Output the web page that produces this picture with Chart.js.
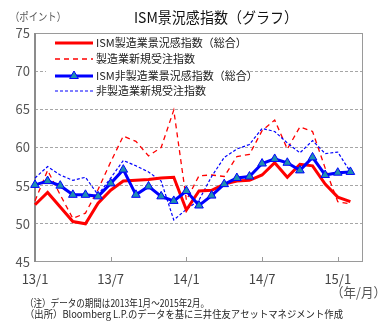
<!DOCTYPE html>
<html>
<head>
<meta charset="utf-8">
<script src="https://cdn.jsdelivr.net/npm/chart.js@4"></script>
<style>
  body { margin: 0; background: #fff; }
  #wrap { width: 388px; height: 329px; }
</style>
</head>
<body>
<div id="wrap"><canvas id="myChart" width="388" height="329"></canvas></div>
<script>
// months 13/1 .. 15/3 (axis runs one month past the last value)
const months = [
  "13/1","13/2","13/3","13/4","13/5","13/6","13/7","13/8","13/9","13/10","13/11","13/12",
  "14/1","14/2","14/3","14/4","14/5","14/6","14/7","14/8","14/9","14/10","14/11","14/12",
  "15/1","15/2","15/3"
];
const tickLabels = ["13/1", "13/7", "14/1", "14/7", "15/1"];

const mfg = [52.5, 54.1, 52.2, 50.3, 50.0, 52.7, 54.4, 55.6, 55.7, 55.8, 56.0, 56.1,
  51.8, 54.3, 54.4, 55.2, 55.6, 55.7, 56.4, 58.0, 56.1, 57.8, 57.6, 55.2, 53.5, 52.9];
const mfgOrders = [53.0, 57.0, 53.8, 50.7, 51.4, 54.5, 58.1, 61.5, 60.8, 58.9, 60.0, 64.9,
  53.1, 56.3, 56.4, 56.2, 58.8, 59.1, 62.2, 63.6, 59.8, 62.7, 62.1, 57.3, 52.9, 52.6];
const nonMfg = [55.1, 55.6, 55.0, 53.8, 53.8, 53.6, 55.3, 57.1, 53.8, 54.9, 53.6, 53.0,
  54.3, 52.4, 53.7, 55.2, 56.0, 56.2, 57.9, 58.5, 58.0, 57.0, 58.7, 56.4, 56.7, 56.8];
const nonMfgOrders = [56.0, 57.5, 56.4, 55.7, 56.1, 53.8, 56.0, 58.3, 57.6, 56.8, 55.6, 50.5,
  51.9, 53.1, 56.2, 58.7, 59.8, 60.4, 62.5, 62.1, 60.6, 59.3, 60.9, 59.2, 59.4, 56.8];

const FONT = "'Noto Sans CJK JP', 'Noto Sans', sans-serif";

// frame, inner x ticks, titles and notes
const decorations = {
  id: "decorations",
  beforeDatasetsDraw(chart) {
    const { ctx, chartArea: a, scales } = chart;
    ctx.save();
    ctx.strokeStyle = "#9a9a9a";
    ctx.lineWidth = 1;
    ctx.strokeRect(a.left + 0.5, a.top + 0.5, a.right - a.left - 1, a.bottom - a.top - 1);
    ctx.strokeStyle = "#8c8c8c";
    ctx.lineWidth = 2;
    ctx.beginPath();
    ctx.moveTo(a.left, a.top);
    ctx.lineTo(a.left, a.bottom);
    ctx.stroke();
    ctx.lineWidth = 1;
    ctx.strokeStyle = "#9a9a9a";
    months.forEach((m, i) => {
      if (i > 0 && tickLabels.includes(m)) {
        const x = Math.round(scales.x.getPixelForValue(i)) + 0.5;
        ctx.beginPath();
        ctx.moveTo(x, a.bottom);
        ctx.lineTo(x, a.bottom - 5);
        ctx.stroke();
      }
    });
    ctx.restore();
  },
  afterDraw(chart) {
    const { ctx } = chart;
    ctx.save();
    ctx.textBaseline = "middle";
    ctx.fillStyle = "#111";
    ctx.font = "15px " + FONT;
    ctx.textAlign = "center";
    ctx.fillText("ISM景況感指数（グラフ）", 216, 17, 164);
    ctx.fillStyle = "#555";
    ctx.font = "11px " + FONT;
    ctx.textAlign = "left";
    ctx.fillText("（ポイント）", 10, 17, 56);
    ctx.font = "13px " + FONT;
    ctx.fillText("（年/月）", 331, 292, 55);
    ctx.fillStyle = "#222";
    ctx.font = "10px " + FONT;
    ctx.fillText("（注）データの期間は2013年1月～2015年2月。", 25, 303, 184);
    ctx.fillText("（出所）Bloomberg L.P.のデータを基に三井住友アセットマネジメント作成", 25, 314, 318);
    ctx.restore();
  }
};

// legend drawn inside the plot, from the dataset styles
const innerLegend = {
  id: "innerLegend",
  afterDatasetsDraw(chart) {
    const { ctx } = chart;
    const rows = [43, 59, 76, 91];
    ctx.save();
    ctx.fillStyle = "#fff";
    ctx.fillRect(46, 36, 200, 63);
    chart.data.datasets.forEach((ds, i) => {
      const y = rows[i];
      ctx.strokeStyle = ds.borderColor;
      ctx.lineWidth = ds.borderWidth;
      ctx.setLineDash(ds.borderDash || []);
      ctx.beginPath();
      ctx.moveTo(55, y);
      ctx.lineTo(93, y);
      ctx.stroke();
      ctx.setLineDash([]);
      if (ds.pointRadius > 0) {
        const r = ds.pointRadius;
        ctx.fillStyle = ds.pointBackgroundColor;
        ctx.strokeStyle = ds.pointBorderColor;
        ctx.lineWidth = 1;
        ctx.beginPath();
        ctx.moveTo(74, y - r);
        ctx.lineTo(74 + r * 0.87, y + r * 0.5);
        ctx.lineTo(74 - r * 0.87, y + r * 0.5);
        ctx.closePath();
        ctx.fill();
        ctx.stroke();
      }
      ctx.fillStyle = "#222";
      ctx.font = "11px " + FONT;
      ctx.textBaseline = "middle";
      ctx.textAlign = "left";
      ctx.fillText(ds.label, 96, y);
    });
    ctx.restore();
  }
};

new Chart(document.getElementById("myChart"), {
  type: "line",
  data: {
    labels: months,
    datasets: [
      {
        label: "ISM製造業景況感指数（総合）",
        data: mfg,
        borderColor: "#ff0000",
        borderWidth: 3,
        pointRadius: 0,
        order: 1
      },
      {
        label: "製造業新規受注指数",
        data: mfgOrders,
        borderColor: "#ff0000",
        borderWidth: 1.3,
        borderDash: [5, 4],
        pointRadius: 0,
        order: 3
      },
      {
        label: "ISM非製造業景況感指数（総合）",
        data: nonMfg,
        borderColor: "#0000ff",
        borderWidth: 3,
        pointStyle: "triangle",
        pointRadius: 5,
        pointBackgroundColor: "#1e8fb0",
        pointBorderColor: "#0000ff",
        pointBorderWidth: 1,
        order: 0
      },
      {
        label: "非製造業新規受注指数",
        data: nonMfgOrders,
        borderColor: "#0000ff",
        borderWidth: 1.2,
        borderDash: [3, 2],
        pointRadius: 0,
        order: 2
      }
    ]
  },
  plugins: [decorations, innerLegend],
  options: {
    responsive: false,
    animation: false,
    devicePixelRatio: 1,
    layout: { padding: { top: 33, right: 25, left: 0, bottom: 0 } },
    plugins: {
      legend: { display: false },
      tooltip: { enabled: false }
    },
    elements: { line: { tension: 0 } },
    scales: {
      x: {
        type: "category",
        offset: false,
        afterFit(scale) { scale.height = 67; },
        grid: { display: false, drawTicks: false },
        border: { display: false },
        ticks: {
          autoSkip: false,
          maxRotation: 0,
          padding: 9,
          color: "#444",
          font: { family: FONT, size: 13 },
          callback(value, index) {
            const m = months[index];
            return tickLabels.includes(m) ? m : "";
          }
        }
      },
      y: {
        min: 45,
        max: 75,
        afterFit(scale) { scale.width = 35; },
        grid: {
          drawTicks: false,
          color(c) {
            const v = c.tick.value;
            return v === 45 || v === 75 ? "rgba(0,0,0,0)" : "#a6a6a6";
          }
        },
        border: { display: false, dash: [3, 2] },
        ticks: {
          stepSize: 5,
          padding: 5,
          color: "#555",
          font: { family: FONT, size: 13 }
        }
      }
    }
  }
});
</script>
</body>
</html>
